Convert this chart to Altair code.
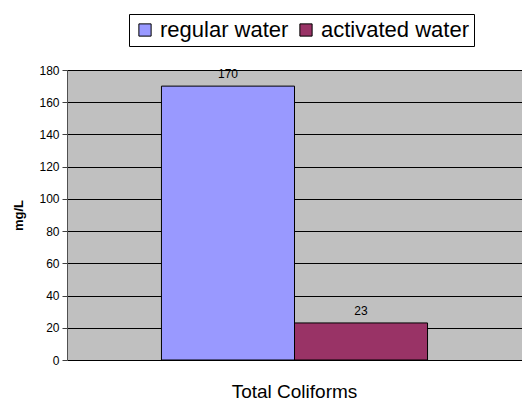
import altair as alt
import pandas as pd

categories = ["Total Coliforms"]
series = ["regular water", "activated water"]
values = [170, 23]
colors = ["#9999FF", "#993366"]
y_ticks = [0, 20, 40, 60, 80, 100, 120, 140, 160, 180]

df = pd.DataFrame({
    "category": categories * len(series),
    "series": series,
    "value": values,
})

y_axis = alt.Axis(values=y_ticks, grid=True, gridColor="#000000", gridWidth=1,
                  gridOpacity=1, tickColor="#404040", tickSize=5, labelOverlap=False,
                  domainColor="#505050", labelFontSize=12, labelColor="#000000",
                  titleFontSize=13, titleFontWeight="bold", titlePadding=13,
                  titleColor="#000000", labelPadding=3)
y_scale = alt.Scale(domain=[0, 180], nice=False)
x_scale = alt.Scale(paddingInner=0, paddingOuter=0.355)
x_axis = alt.Axis(labelAngle=0, labelFontSize=19, labelPadding=22,
                  ticks=False, domain=False, labelColor="#000000")
xo = alt.XOffset("series:N", sort=series, scale=alt.Scale(paddingInner=0, paddingOuter=0))

bars = alt.Chart(df).mark_bar(stroke="#000000", strokeWidth=1).encode(
    x=alt.X("category:N", title=None, scale=x_scale, axis=x_axis),
    xOffset=xo,
    y=alt.Y("value:Q", title="mg/L", scale=y_scale, axis=y_axis),
    color=alt.Color("series:N", sort=series,
                    scale=alt.Scale(domain=series, range=colors),
                    legend=alt.Legend(title=None, orient="none", direction="horizontal",
                                      legendX=62, legendY=-56,
                                      labelFontSize=22, labelColor="#000000",
                                      symbolType="square", symbolSize=150,
                                      symbolStrokeColor="#000000", symbolStrokeWidth=1,
                                      symbolOpacity=1,
                                      strokeColor="#000000", fillColor="#FFFFFF",
                                      padding=5, columnPadding=6, labelOffset=4)),
)

labels = alt.Chart(df).mark_text(dy=-12, fontSize=12, color="#000000").encode(
    x=alt.X("category:N", title=None, scale=x_scale, axis=x_axis),
    xOffset=xo,
    y=alt.Y("value:Q", title="mg/L", scale=y_scale, axis=y_axis),
    text=alt.Text("value:Q"),
)

chart = alt.layer(bars, labels).properties(
    width=455, height=290,
    autosize=alt.AutoSizeParams(type="none"),
    padding={"left": 59, "top": 62, "right": 0, "bottom": 41},
).configure(font="Liberation Sans").configure_view(
    fill="#C0C0C0", stroke=None
)

chart.save("out.html", embed_options={"renderer": "svg", "actions": False})
